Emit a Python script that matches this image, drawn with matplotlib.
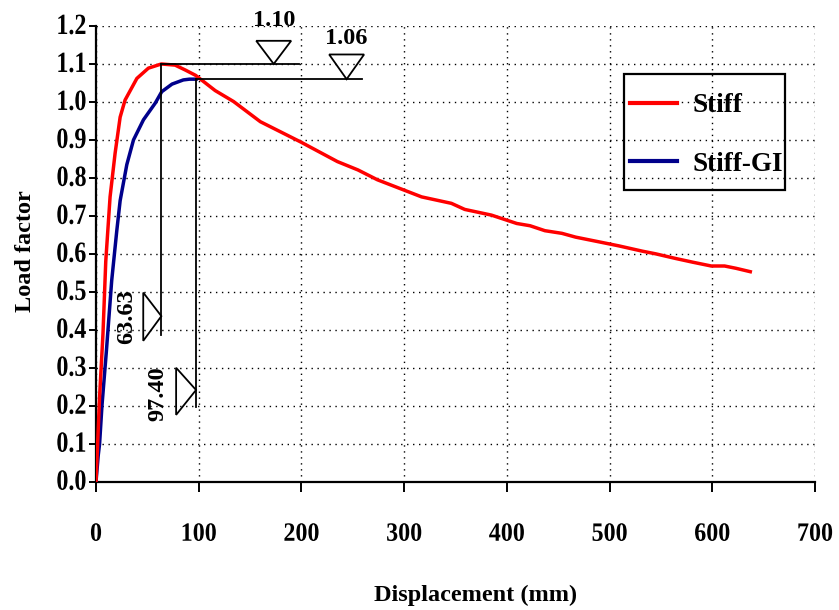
import numpy as np
import matplotlib
matplotlib.use("Agg")
import matplotlib.pyplot as plt
from matplotlib.patches import Polygon, Rectangle
from matplotlib.patheffects import AbstractPathEffect
from matplotlib.transforms import Affine2D

# ── dados ─────────────────────────────────────────────────────────────
stiff_x = [0, 2, 3.5, 6.8, 9.5, 13.7, 18.6, 23.5, 28.3, 39.8, 51, 63.63,
           77, 87, 97, 116, 134, 160, 199, 235, 255, 274, 317, 346, 359,
           385, 409.6, 422.6, 437, 453.6, 467, 489, 509, 532, 545, 564,
           581, 599, 612, 623, 637]
stiff_y = [0, 0.127, 0.224, 0.39, 0.58, 0.75, 0.865, 0.96, 1.005, 1.062,
           1.089, 1.10, 1.097, 1.084, 1.07, 1.03, 1.001, 0.948, 0.895,
           0.843, 0.821, 0.795, 0.75, 0.733, 0.717, 0.702, 0.68, 0.674,
           0.661, 0.654, 0.644, 0.632, 0.621, 0.607, 0.60, 0.588, 0.578,
           0.568, 0.568, 0.562, 0.553]

gi_x = [0, 2.2, 3.5, 5.8, 10, 15.3, 20.2, 23.5, 30, 36.5, 46.2, 57.7, 64,
        74, 85, 91, 97.4]
gi_y = [0, 0.07, 0.10, 0.2, 0.34, 0.53, 0.66, 0.74, 0.835, 0.9, 0.953,
        0.997, 1.027, 1.047, 1.058, 1.06, 1.06]

peak_stiff = (63.63, 1.10)
peak_gi = (97.40, 1.06)

x_ticks = [0, 100, 200, 300, 400, 500, 600, 700]
y_ticks = [0.0, 0.1, 0.2, 0.3, 0.4, 0.5, 0.6, 0.7, 0.8, 0.9, 1.0, 1.1, 1.2]


# texto "esticado" na vertical (fonte do original é mais alta)
class VStretch(AbstractPathEffect):
    def __init__(self, sy):
        super().__init__()
        self.sy = sy

    def draw_path(self, renderer, gc, tpath, affine, rgbFace=None):
        renderer.draw_path(gc, tpath, Affine2D().scale(1, self.sy) + affine,
                           rgbFace)


# ── figura ────────────────────────────────────────────────────────────
plt.rcParams["font.family"] = ["Liberation Serif", "DejaVu Serif"]
plt.rcParams["font.weight"] = "bold"

fig = plt.figure(figsize=(8.39, 6.10), dpi=100)
W, H = 839, 610
ax = fig.add_axes([96 / W, 1 - 481.7 / H, 719 / W, 455.7 / H])

ax.plot(stiff_x, stiff_y, color="#ff0000", lw=2.5, label="Stiff", zorder=5)
ax.plot(gi_x, gi_y, color="#00008b", lw=2.5, label="Stiff-GI", zorder=4)

# linhas de referência dos picos
lk = dict(color="black", lw=1.3, zorder=6)
ax.plot([peak_stiff[0], peak_stiff[0]], [0.386, peak_stiff[1]], **lk)
ax.plot([peak_stiff[0], 198], [peak_stiff[1], peak_stiff[1]], **lk)
ax.plot([peak_gi[0], peak_gi[0]], [0.198, peak_gi[1]], **lk)
ax.plot([peak_gi[0], 259], [peak_gi[1], peak_gi[1]], **lk)


def tri(pts):
    ax.add_patch(Polygon(pts, closed=True, fill=False, edgecolor="black",
                         lw=1.3, zorder=6))


tri([(173 - 17, 1.161), (173 + 17, 1.161), (173, peak_stiff[1])])
tri([(244 - 17, 1.125), (244 + 17, 1.125), (244, peak_gi[1])])
tri([(46, 0.498), (46, 0.371), (peak_stiff[0], 0.436)])
tri([(78, 0.30), (78, 0.176), (peak_gi[0], 0.2415)])

tk = dict(fontsize=17.5, fontweight="bold", ha="center", va="center")
ax.text(173, 1.214, f"{peak_stiff[1]:.2f}", clip_on=False, **tk)
ax.text(244, 1.166, f"{peak_gi[1]:.2f}", clip_on=False, **tk)
ax.text(29.9, 0.435, f"{peak_stiff[0]:.2f}", rotation=90, **tk)
ax.text(60.7, 0.233, f"{peak_gi[0]:.2f}", rotation=90, **tk)

# eixos
ax.set_xlim(0, 700)
ax.set_ylim(0, 1.2)
ax.set_xticks(x_ticks)
ax.set_yticks(y_ticks)
ax.set_yticklabels([f"{v:.1f}" for v in y_ticks])
ax.grid(True, color="black", linestyle=(0, (1, 3.3)), lw=1.0)

for s in ["top", "right"]:
    ax.spines[s].set_visible(False)
for s in ["left", "bottom"]:
    ax.spines[s].set_linewidth(1.6)

ax.tick_params(axis="x", direction="out", length=7, width=1.4,
               labelsize=17.3, pad=24)
ax.tick_params(axis="y", direction="out", length=5, width=1.4,
               labelsize=17.3, pad=2)
for lab in ax.get_xticklabels():
    lab.set_fontweight("bold")
    lab.set_path_effects([VStretch(1.1)])
for lab in ax.get_yticklabels():
    lab.set_fontweight("bold")
    lab.set_path_effects([VStretch(1.22)])

ax.set_xlabel("Displacement (mm)", fontsize=17.5, fontweight="bold",
              va="center")
ax.set_ylabel("Load factor", fontsize=17.5, fontweight="bold", va="center")
ax.xaxis.set_label_coords((476 - 96) / 719, (481.7 - 595) / 455.7)
ax.yaxis.set_label_coords((26 - 96) / 719, (481.7 - 251) / 455.7)

# legenda (caixa desenhada à parte)
fig.add_artist(Rectangle((624 / W, 1 - 190 / H), 161 / W, 116 / H,
                         transform=fig.transFigure, fill=False,
                         edgecolor="black", lw=1.6, zorder=10))
leg = ax.legend(loc="upper left", bbox_to_anchor=(630 / W, 1 - 93 / H),
                bbox_transform=fig.transFigure, fontsize=19.5,
                frameon=False, handlelength=1.75, handletextpad=0.55,
                labelspacing=1.25, borderpad=0, borderaxespad=0)
for t in leg.get_texts():
    t.set_fontweight("bold")
for h in leg.get_lines():
    h.set_linewidth(3)

fig.savefig("out.png", dpi=100)
